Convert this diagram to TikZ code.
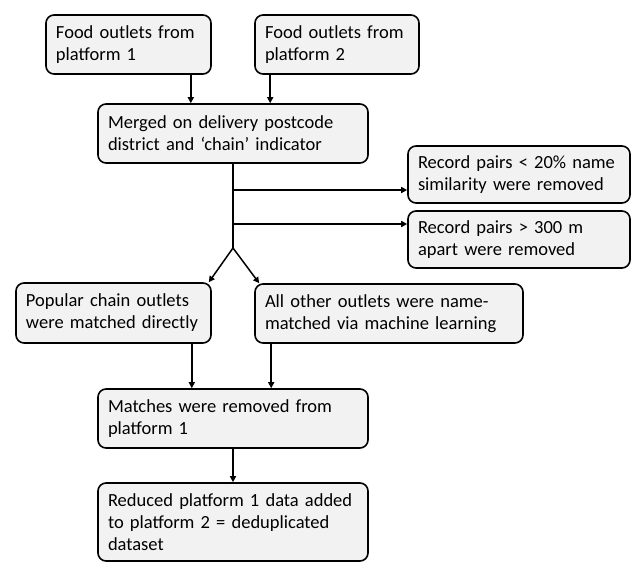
\documentclass[tikz,border=0pt]{standalone}
\usepackage{fontspec}
\setmainfont{Carlito}
\usetikzlibrary{arrows.meta}

\begin{document}
\begin{tikzpicture}[x=1pt, y=-1pt, >={Triangle[length=6pt,width=6pt]},
  box/.style={draw, line width=1.6pt, rounded corners=8pt, fill=gray!10,
    align=left, inner xsep=10pt, inner ysep=0pt, anchor=center,
    font=\fontsize{18.5}{22}\selectfont},
  arr/.style={->, line width=1.5pt}]
  \useasboundingbox (0,0) rectangle (633,562);
  % top row
  \node[box, minimum width=165pt, minimum height=59pt, text width=145pt] (plat1) at (128.5,44.5)
    {Food outlets from\\platform 1};
  \node[box, minimum width=164pt, minimum height=59pt, text width=144pt] (plat2) at (337,44.5)
    {Food outlets from\\platform 2};
  \node[box, minimum width=270pt, minimum height=59pt, text width=250pt] (merged) at (233,133.5)
    {Merged on delivery postcode\\district and `chain' indicator};
  % removal steps
  \node[box, minimum width=222pt, minimum height=57pt, text width=202pt] (rec1) at (519,174.5)
    {Record pairs < 20\% name\\similarity were removed};
  \node[box, minimum width=222pt, minimum height=57pt, text width=202pt] (rec2) at (519,239.5)
    {Record pairs > 300 m\\apart were removed};
  % matching
  \node[box, minimum width=195pt, minimum height=60pt, text width=175pt] (popular) at (113.5,313)
    {Popular chain outlets\\were matched directly};
  \node[box, minimum width=268pt, minimum height=59pt, text width=248pt] (other) at (389,313.5)
    {All other outlets were name-\\matched via machine learning};
  \node[box, minimum width=270pt, minimum height=59pt, text width=250pt] (matches) at (233,418.5)
    {Matches were removed from\\platform 1};
  \node[box, minimum width=270pt, minimum height=78pt, text width=250pt] (reduced) at (233,522)
    {Reduced platform 1 data added\\to platform 2 = deduplicated\\dataset};

  \coordinate (b1) at (233,190);
  \coordinate (b2) at (233,224);
  \coordinate (split) at (233,248);

  \draw[arr] ([xshift=-21pt]plat1.south east) -- ([xshift=-21pt]plat1.south east |- merged.north);
  \draw[arr] ([xshift=16pt]plat2.south west) -- ([xshift=16pt]plat2.south west |- merged.north);
  \draw[line width=1.5pt] (merged.south) -- (split);
  \draw[arr] (b1) -- (b1 -| rec1.west);
  \draw[arr] (b2) -- (b2 -| rec2.west);
  \draw[arr] (split) -- ([xshift=-3pt]popular.north east);
  \draw[arr] (split) -- ([xshift=5pt]other.north west);
  \draw[arr] ([xshift=-20pt]popular.south east) -- ([xshift=-20pt]popular.south east |- matches.north);
  \draw[arr] ([xshift=17pt]other.south west) -- ([xshift=17pt]other.south west |- matches.north);
  \draw[arr] (matches) -- (reduced);
\end{tikzpicture}
\end{document}
